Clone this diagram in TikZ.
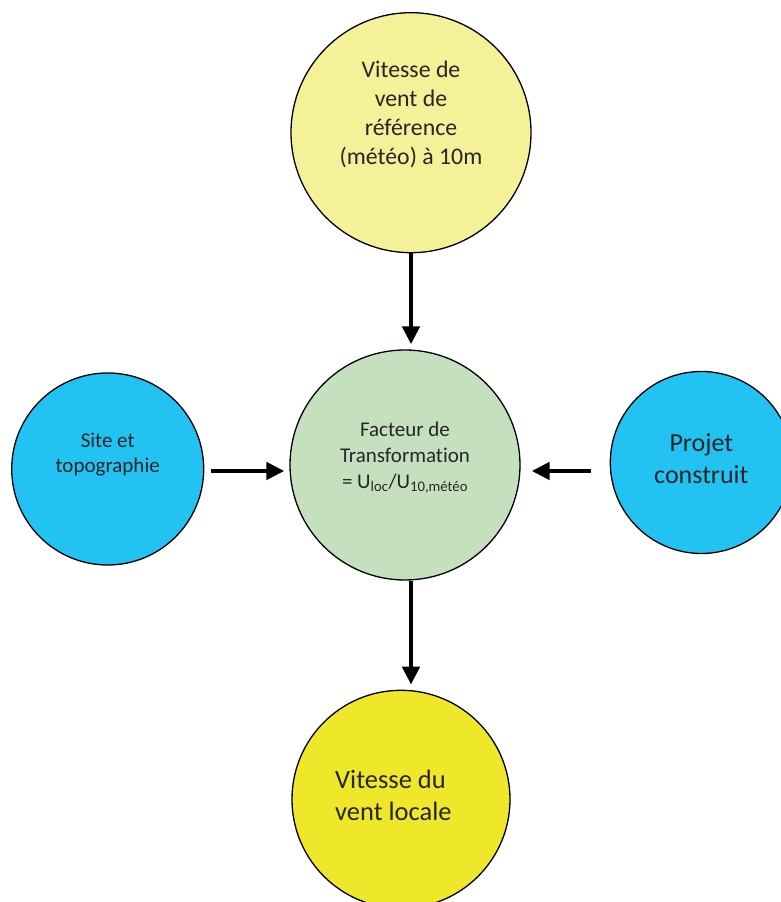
\documentclass[tikz,border=0pt]{standalone}
\usepackage{fontspec}
\setmainfont{Carlito}[Ligatures=NoCommon]
\usetikzlibrary{arrows.meta,positioning}
\definecolor{ventpale}{RGB}{245,241,153}
\definecolor{ventgreen}{RGB}{197,224,190}
\definecolor{ventcyan}{RGB}{34,195,243}
\definecolor{ventyellow}{RGB}{239,231,42}
\definecolor{venttext}{RGB}{38,38,38}
\tikzset{
  vcirc/.style={circle, draw=black, line width=1.3pt, inner sep=0pt},
  vtxt/.style={align=center, text=venttext, inner sep=0pt},
  varr/.style={-{Triangle[length=18pt,width=17pt]}, line width=4.5pt, black},
}

\begin{document}
\begin{tikzpicture}[x=1pt,y=1pt,node distance=90pt]
        \useasboundingbox (0,0) rectangle (781,902);
        % centre
        \node[vcirc,fill=ventgreen,minimum size=230pt](fact) at (405,437){};
        \node[vtxt,font=\fontsize{21}{26}\selectfont](factTxt) at ([yshift=7pt]fact.center){Facteur de\\Transformation\\= U\textsubscript{loc}/U\textsubscript{10,météo}};
        % inputs
        \node[vcirc,fill=ventpale,minimum size=240pt,above=96pt of fact,xshift=6pt](ref){};
        \node[vtxt,font=\fontsize{23.8}{29}\selectfont](refTxt) at ([yshift=18pt]ref.center){Vitesse de\\vent de\\référence\\(météo) à 10m};
        \node[vcirc,fill=ventcyan,minimum size=192pt,left=85pt of fact,yshift=-4pt](site){};
        \node[vtxt,font=\fontsize{21}{25}\selectfont](siteTxt) at ([yshift=14pt]site.center){Site et\\topographie};
        \node[vcirc,fill=ventcyan,minimum size=182pt,right=89pt of fact,yshift=2.5pt](proj){};
        \node[vtxt,font=\fontsize{26}{32}\selectfont](projTxt) at ([yshift=3.5pt]proj.center){Projet\\construit};
        % output
        \node[vcirc,fill=ventyellow,minimum size=218pt,below=109pt of fact,xshift=-4pt](loc){};
        \node[vtxt,align=left,anchor=west,font=\fontsize{26.5}{32}\selectfont](locTxt) at ([xshift=-66pt,yshift=4pt]loc.center){Vitesse du\\vent locale};
        \draw[varr,shorten >=5pt](ref.south)--(ref.south |- fact.north);
        \draw[varr,shorten <=7pt,shorten >=5pt]([yshift=-2pt]site.east)--([yshift=-2pt]site.east -| fact.west);
        \draw[varr,shorten <=19pt,shorten >=11pt]([yshift=-8.5pt]proj.west)--([yshift=-8.5pt]proj.west -| fact.east);
        \draw[varr,shorten >=5pt]([xshift=6pt]fact.south)--([xshift=6pt]fact.south |- loc.north);
    \end{tikzpicture}
\end{document}
